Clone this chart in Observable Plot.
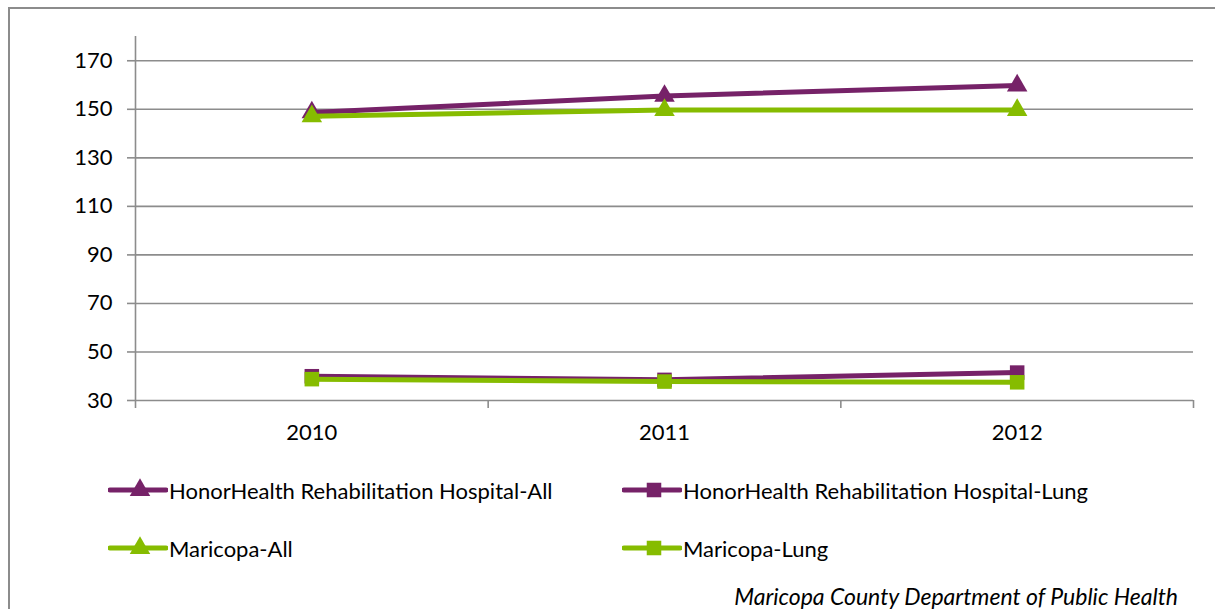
<!DOCTYPE html>
<html>
<head>
<meta charset="utf-8">
<script src="https://cdn.jsdelivr.net/npm/d3@7"></script>
<script src="https://cdn.jsdelivr.net/npm/@observablehq/plot@0.6"></script>
<style>
  html, body { margin: 0; padding: 0; background: #fff; }
  #wrap { position: relative; width: 1215px; height: 609px; overflow: hidden; font-family: Lato, "Open Sans", sans-serif; }
  #frame { position: absolute; left: 8px; top: 7px; width: 1300px; height: 700px; border: 2px solid #8c8c8c; box-sizing: border-box; }
  #chart { position: absolute; left: 0; top: 0; }
  .leg { position: absolute; display: flex; align-items: center; font-size: 22px; color: #000; white-space: nowrap; }
  .leg svg { display: block; margin-right: 1px; }
  #caption { position: absolute; right: 37px; top: 582px; font-size: 23px; font-style: italic; color: #000; white-space: nowrap; }
</style>
</head>
<body>
<div id="wrap">
  <div id="frame"></div>
  <div id="chart"></div>
  <div id="legend"></div>
  <div id="caption">Maricopa County Department of Public Health</div>
</div>
<script>
// ---- data ----
const years = [2010, 2011, 2012];
const seriesNames = [
  "HonorHealth Rehabilitation Hospital-All",
  "HonorHealth Rehabilitation Hospital-Lung",
  "Maricopa-All",
  "Maricopa-Lung"
];
const hhAll  = [148.7, 155.5, 159.8];
const hhLung = [40.0, 38.5, 41.5];
const mcAll  = [147.1, 149.7, 149.7];
const mcLung = [38.8, 37.8, 37.5];
const yTicks = [30, 50, 70, 90, 110, 130, 150, 170];
const yDomain = [30, 180];

// ---- styles ----
const purple = "#762268";
const green = "#86bc00";
const gray = "#8c8c8c";
const styles = {
  [seriesNames[0]]: {color: purple, symbol: "triangle", r: 7.6},
  [seriesNames[1]]: {color: purple, symbol: "square", r: 8.2},
  [seriesNames[2]]: {color: green, symbol: "triangle", r: 7.6},
  [seriesNames[3]]: {color: green, symbol: "square", r: 8.2}
};
const valuesBySeries = [hhAll, hhLung, mcAll, mcLung];

const rows = seriesNames.map((name, s) =>
  years.map((yr, i) => ({series: name, year: yr, value: valuesBySeries[s][i]})));

const boundaries = [years[0] - 0.5, ...years.map(y => y + 0.5)];

const marks = [
  Plot.ruleY(yTicks, {stroke: gray, strokeWidth: 1.6}),
  Plot.ruleX([boundaries[0]], {stroke: gray, strokeWidth: 1.6}),
  Plot.axisY(yTicks, {tickSize: 8, tickPadding: 15, stroke: gray, strokeWidth: 1.6, fill: "#000", fontSize: 22, label: null}),
  Plot.axisX(boundaries, {tickSize: 8, tickFormat: () => "", stroke: gray, strokeWidth: 1.6, label: null}),
  Plot.axisX(years, {tickSize: 0, tickPadding: 24, tickFormat: "d", fill: "#000", fontSize: 22, label: null})
];
rows.forEach((data) => {
  const st = styles[data[0].series];
  marks.push(Plot.line(data, {x: "year", y: "value", stroke: st.color, strokeWidth: 5}));
  marks.push(Plot.dot(data, {x: "year", y: "value", symbol: st.symbol, fill: st.color, r: st.r}));
});

const chart = Plot.plot({
  width: 1215,
  height: 460,
  marginLeft: 135,
  marginRight: 22,
  marginTop: 36,
  marginBottom: 60,
  style: {fontFamily: "Lato, 'Open Sans', sans-serif", fontSize: "22px", color: "#000", background: "transparent"},
  x: {type: "linear", domain: [boundaries[0], boundaries[boundaries.length - 1]], axis: null},
  y: {domain: yDomain, axis: null},
  marks
});
document.getElementById("chart").appendChild(chart);

// ---- legend ----
const legendPos = [
  {left: 108, top: 490}, {left: 622, top: 490},
  {left: 108, top: 548}, {left: 622, top: 548}
];
const legend = document.getElementById("legend");
seriesNames.forEach((name, i) => {
  const st = styles[name];
  const div = document.createElement("div");
  div.className = "leg";
  div.style.left = legendPos[i].left + "px";
  div.style.top = (legendPos[i].top - 14) + "px";
  const sym = st.symbol === "triangle" ? d3.symbolTriangle : d3.symbolSquare;
  const path = d3.symbol(sym, Math.PI * st.r * st.r)();
  div.innerHTML = `<svg width="60" height="28"><line x1="2" x2="58" y1="14" y2="14" stroke="${st.color}" stroke-width="5" stroke-linecap="round"/><path transform="translate(32,14)" d="${path}" fill="${st.color}"/></svg><span>${name}</span>`;
  legend.appendChild(div);
});
</script>
</body>
</html>
